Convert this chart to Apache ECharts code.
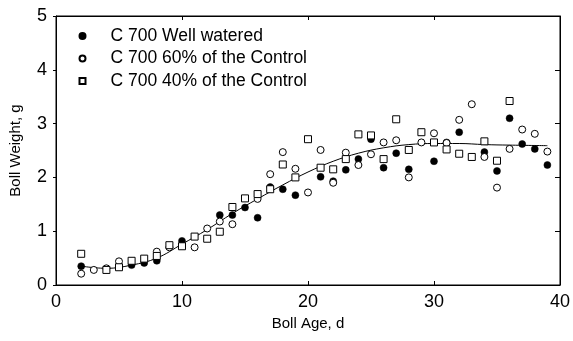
<!DOCTYPE html>
<html>
<head>
<meta charset="utf-8">
<script src="https://cdn.jsdelivr.net/npm/echarts@6/dist/echarts.min.js"></script>
<style>
html,body{margin:0;padding:0;background:#fff;}
#chart{width:573px;height:341px;}
</style>
</head>
<body>
<div id="chart"></div>
<script>
const xTicks = [0, 10, 20, 30, 40];
const yTicks = [0, 1, 2, 3, 4, 5];

const seriesNames = ['C 700 Well watered', 'C 700 60% of the Control', 'C 700 40% of the Control'];

const wellDays   = [2, 6, 7, 8, 10, 13, 14, 15, 16, 17, 18, 19, 21, 22, 23, 24, 25, 26, 27, 28, 30, 31, 32, 34, 35, 36, 37, 38, 39];
const wellWeight = [0.35, 0.37, 0.41, 0.45, 0.82, 1.30, 1.30, 1.44, 1.25, 1.82, 1.78, 1.67, 2.01, 1.93, 2.14, 2.34, 2.71, 2.18, 2.45, 2.15, 2.30, 2.65, 2.84, 2.47, 2.12, 3.10, 2.62, 2.53, 2.23];

const p60Days   = [2, 3, 4, 5, 8, 9, 11, 12, 13, 14, 16, 17, 18, 19, 20, 21, 22, 23, 24, 25, 26, 27, 28, 29, 30, 31, 32, 33, 34, 35, 36, 37, 38, 39];
const p60Weight = [0.21, 0.28, 0.31, 0.44, 0.62, 0.70, 0.70, 1.05, 1.18, 1.13, 1.60, 2.06, 2.47, 2.16, 1.72, 2.51, 1.90, 2.46, 2.23, 2.43, 2.65, 2.69, 2.00, 2.65, 2.82, 2.64, 3.07, 3.36, 2.38, 1.81, 2.53, 2.89, 2.81, 2.48];

const p40Days   = [2, 4, 5, 6, 7, 8, 9, 10, 11, 12, 13, 14, 15, 16, 17, 18, 19, 20, 21, 22, 23, 24, 25, 26, 27, 28, 29, 30, 31, 32, 33, 34, 35, 36];
const p40Weight = [0.58, 0.28, 0.33, 0.45, 0.49, 0.54, 0.74, 0.72, 0.90, 0.86, 0.99, 1.45, 1.61, 1.69, 1.78, 2.24, 2.00, 2.71, 2.18, 2.15, 2.34, 2.80, 2.78, 2.34, 3.08, 2.51, 2.84, 2.65, 2.52, 2.44, 2.38, 2.67, 2.31, 3.42];

const fitDays   = [2, 4, 6, 8, 10, 12, 14, 16, 18, 20, 22, 24, 26, 28, 30, 32, 34, 36, 39];
const fitWeight = [0.35, 0.31, 0.37, 0.50, 0.76, 1.03, 1.33, 1.60, 1.86, 2.10, 2.30, 2.45, 2.55, 2.61, 2.63, 2.63, 2.61, 2.60, 2.59];

const zip = (a, b) => a.map((v, i) => [v, b[i]]);

const FONT = '"Liberation Sans", Arial, sans-serif';
const chart = echarts.init(document.getElementById('chart'), null, {renderer: 'canvas'});

const axisLineStyle = {color: '#000', width: 1};
chart.setOption({
  animation: false,
  backgroundColor: '#fff',
  grid: {left: 52, right: 11, top: 16, bottom: 56, show: true, borderColor: '#000', borderWidth: 1, backgroundColor: 'transparent'},
  legend: {
    orient: 'vertical',
    left: 73.5,
    top: 22,
    itemWidth: 6,
    itemHeight: 6,
    itemGap: 4.5,
    data: [
      {name: seriesNames[0], icon: 'circle'},
      {name: seriesNames[1], icon: 'circle'},
      {name: seriesNames[2], icon: 'rect'}
    ],
    textStyle: {fontFamily: FONT, fontSize: 17.5, color: '#000', padding: [0, 0, 0, 20]}
  },
  xAxis: [
    {
      type: 'value', min: 0, max: 40, interval: 10, position: 'bottom',
      name: 'Boll Age, d', nameLocation: 'middle', nameGap: 27,
      nameTextStyle: {fontFamily: FONT, fontSize: 15, color: '#000'},
      axisLine: {show: true, onZero: false, lineStyle: axisLineStyle},
      axisTick: {show: true, inside: true, length: 4, lineStyle: axisLineStyle},
      axisLabel: {fontFamily: FONT, fontSize: 18, color: '#000', margin: 8,
        formatter: v => xTicks.includes(v) ? String(v) : ''},
      splitLine: {show: false}
    },
    {
      type: 'value', min: 0, max: 40, interval: 10, position: 'top',
      axisLine: {show: true, onZero: false, lineStyle: axisLineStyle},
      axisTick: {show: true, inside: true, length: 4, lineStyle: axisLineStyle},
      axisLabel: {show: false},
      splitLine: {show: false}
    }
  ],
  yAxis: [
    {
      type: 'value', min: 0, max: 5, interval: 1, position: 'left',
      name: 'Boll Weight, g', nameLocation: 'middle', nameGap: 33, nameRotate: 90,
      nameTextStyle: {fontFamily: FONT, fontSize: 15, color: '#000'},
      axisLine: {show: true, onZero: false, lineStyle: axisLineStyle},
      axisTick: {show: true, inside: false, length: 3, lineStyle: axisLineStyle},
      axisLabel: {fontFamily: FONT, fontSize: 18, color: '#000', margin: 9,
        formatter: v => yTicks.includes(v) ? String(v) : ''},
      splitLine: {show: false}
    },
    {
      type: 'value', min: 0, max: 5, interval: 1, position: 'right',
      axisLine: {show: true, onZero: false, lineStyle: axisLineStyle},
      axisTick: {show: true, inside: true, length: 5, lineStyle: axisLineStyle},
      axisLabel: {show: false},
      splitLine: {show: false}
    }
  ],
  series: [
    {
      name: 'fit', type: 'line', data: zip(fitDays, fitWeight), smooth: 0.4,
      xAxisIndex: 1, yAxisIndex: 1,
      showSymbol: false, symbol: 'none', z: 1,
      lineStyle: {color: '#000', width: 1}, silent: true
    },
    {
      name: seriesNames[0], type: 'scatter', data: zip(wellDays, wellWeight),
      symbol: 'circle', symbolSize: 7, z: 2,
      itemStyle: {color: '#000', borderColor: '#000', borderWidth: 0.5, opacity: 1}
    },
    {
      name: seriesNames[1], type: 'scatter', data: zip(p60Days, p60Weight),
      symbol: 'circle', symbolSize: 7, z: 3,
      itemStyle: {color: '#fff', borderColor: '#000', borderWidth: 1, opacity: 1}
    },
    {
      name: seriesNames[2], type: 'scatter', data: zip(p40Days, p40Weight),
      symbol: 'rect', symbolSize: 7, z: 4,
      itemStyle: {color: '#fff', borderColor: '#000', borderWidth: 1, opacity: 1}
    }
  ]
});
</script>
</body>
</html>
